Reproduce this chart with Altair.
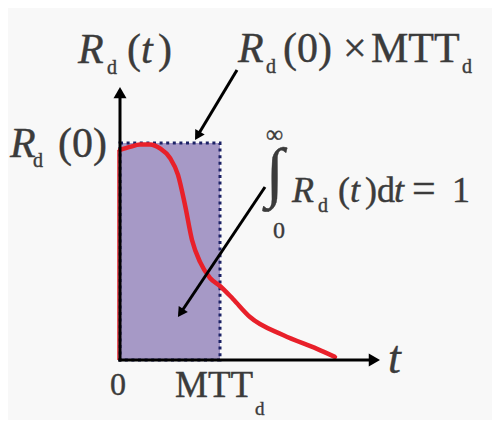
import altair as alt
import pandas as pd

# ---- data (t in units of MTT_d, R in units of R_d(0)) ----
curve_t = [0.0, 0.1, 0.2, 0.3, 0.4, 0.5, 0.58, 0.65, 0.72, 0.8, 0.9, 1.0, 1.13, 1.3, 1.63, 1.97, 2.15]
curve_R = [0.968, 0.982, 0.993, 0.993, 0.975, 0.931, 0.853, 0.714, 0.553, 0.452, 0.378, 0.341, 0.281, 0.198, 0.115, 0.051, 0.014]
mtt = [1.0]
r0 = [1.0]

# ---- annotation layout (data coordinates) ----
txt_label = ["R", "d", "(", "t", ")",
             "R", "d", "(0)",
             "R", "d", "(0)", "×", "MTT", "d",
             "∞", "∫", "0", "R", "d", "(", "t", ")", "d", "t", "=", "1",
             "0", "MTT", "d", "t"]
txt_t = [-0.42, -0.13, 0.07, 0.21, 0.38,
         -1.10, -0.87, -0.62,
         1.18, 1.46, 1.63, 2.23, 2.51, 3.42,
         1.46, 1.46, 1.53, 1.72, 1.98, 2.18, 2.30, 2.45, 2.57, 2.74, 2.92, 3.32,
         -0.10, 0.55, 1.35, 2.68]
txt_R = [1.3687, 1.318, 1.3687, 1.3687, 1.3687,
         0.9355, 0.8894, 0.9355,
         1.3733, 1.3226, 1.3733, 1.3733, 1.3733, 1.3226,
         1.0046, 0.765, 0.5622, 0.7281, 0.682, 0.7281, 0.7281, 0.7281, 0.7281, 0.7281, 0.7281, 0.7281,
         -0.1613, -0.1705, -0.2535, -0.0599]
txt_size = [42, 20, 42, 42, 42,
            42, 20, 42,
            42, 20, 42, 42, 42, 20,
            24, 66, 24, 36, 20, 36, 36, 36, 36, 36, 42, 36,
            32, 37, 19, 46]
txt_italic = [1, 0, 0, 1, 0,
              1, 0, 0,
              1, 0, 0, 0, 0, 0,
              0, 0, 0, 1, 0, 0, 1, 0, 0, 1, 0, 0,
              0, 0, 0, 1]

arrow_t = [1.17, 1.45]
arrow_R = [1.336, 0.797]
arrow_t2 = [0.775, 0.606]
arrow_R2 = [1.033, 0.2166]
head_angle = [211, 214]

X = alt.Scale(domain=[-1.12, 3.72], nice=False, zero=False)
Y = alt.Scale(domain=[-0.2766, 1.622], nice=False, zero=False)

curve_df = pd.DataFrame({"t": curve_t, "R": curve_R})
rect_df = pd.DataFrame({"t": [0.0], "t2": mtt, "R": [0.0], "R2": r0})
text_df = pd.DataFrame({"t": txt_t, "R": txt_R, "label": txt_label,
                        "size": txt_size, "italic": txt_italic})
arr_df = pd.DataFrame({"t": arrow_t, "R": arrow_R, "t2": arrow_t2, "R2": arrow_R2,
                       "angle": head_angle})

def xe(f="t"):
    return alt.X(f"{f}:Q", scale=X, axis=None)

def ye(f="R"):
    return alt.Y(f"{f}:Q", scale=Y, axis=None)

rect = alt.Chart(rect_df).mark_rect(
    fill="#a699c6", stroke="#1c2266", strokeWidth=3, strokeDash=[3, 3.6]
).encode(x=xe(), x2="t2:Q", y=ye(), y2="R2:Q")

red_edge = alt.Chart(pd.DataFrame({"t": [0.0], "R": [0.0], "R2": [curve_R[0]]})).mark_rule(
    color="#e8202a", strokeWidth=1.5, xOffset=-2
).encode(x=xe(), y=ye(), y2="R2:Q")

curve = alt.Chart(curve_df).mark_line(
    color="#e8202a", strokeWidth=4.5, interpolate="monotone", strokeCap="round"
).encode(x=xe(), y=ye())

yaxis = alt.Chart(pd.DataFrame({"t": [0.0], "R": [-0.007], "R2": [1.22]})).mark_rule(
    color="black", strokeWidth=3
).encode(x=xe(), y=ye(), y2="R2:Q")
xaxis = alt.Chart(pd.DataFrame({"t": [-0.015], "t2": [2.5], "R": [0.0]})).mark_rule(
    color="black", strokeWidth=3
).encode(x=xe(), x2="t2:Q", y=ye())

yhead = alt.Chart(pd.DataFrame({"t": [0.0], "R": [1.232]})).mark_point(
    shape="triangle-up", filled=True, color="black", opacity=1, size=169
).encode(x=xe(), y=ye())
xhead = alt.Chart(pd.DataFrame({"t": [2.544], "R": [0.0]})).mark_point(
    shape="triangle-right", filled=True, color="black", opacity=1, size=169
).encode(x=xe(), y=ye())

arr_lines = alt.Chart(arr_df).mark_rule(color="black", strokeWidth=3).encode(
    x=xe(), y=ye(), x2="t2:Q", y2="R2:Q")
arr_heads = alt.Chart(arr_df).mark_point(
    shape="triangle-up", filled=True, color="black", opacity=1, size=121
).encode(x=xe("t2"), y=ye("R2"), angle=alt.Angle("angle:Q", scale=None))

def text_layer(italic):
    return alt.Chart(text_df).transform_filter(
        alt.datum.italic == italic
    ).mark_text(
        align="left", baseline="alphabetic", font="Liberation Serif",
        color="#3b3b3b", stroke="#3b3b3b", strokeWidth=0.4,
        fontStyle="italic" if italic else "normal"
    ).encode(x=xe(), y=ye(), text="label:N", size=alt.Size("size:Q", scale=None))

chart = alt.layer(
    rect, red_edge, curve, yaxis, xaxis, yhead, xhead, arr_lines, arr_heads,
    text_layer(0), text_layer(1)
).properties(
    width=484, height=412, padding=0, autosize=alt.AutoSizeParams(type="none"),
    background="#f8f8f8"
).configure_view(stroke=None)

chart.save("out.html", embed_options={"renderer": "svg", "actions": False})
